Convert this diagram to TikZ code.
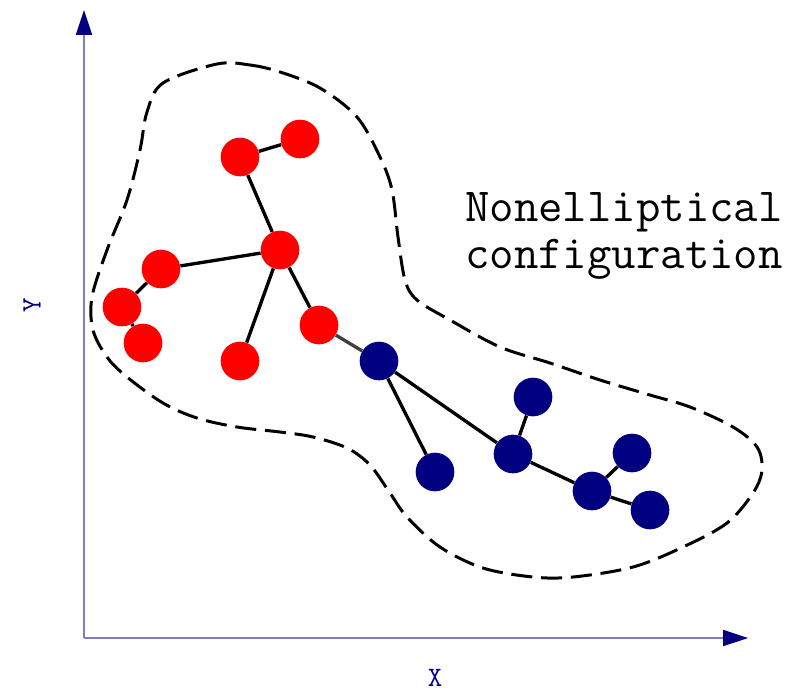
\documentclass[tikz,border=0pt]{standalone}
\usetikzlibrary{arrows.meta}
\definecolor{cRed}{HTML}{FF0000}
\definecolor{cNavy}{HTML}{000080}
\definecolor{cAxis}{HTML}{7F7FBF}
\definecolor{cInk}{HTML}{000000}
\definecolor{cLink}{HTML}{404040}

\begin{document}
\begin{tikzpicture}[
  x=0.02cm, y=-0.02cm,
  ax/.style={line width=0.85pt,color=cAxis,
    -{Triangle[length=14.2pt,width=9.2pt,color=cNavy]}},
  axlbl/.style={font=\ttfamily\fontsize{16}{16}\selectfont,color=cNavy,
    inner sep=0.5pt},
  atom/.style={circle,inner sep=0pt,minimum size=22pt},
  ra/.style={atom,fill=cRed},
  ba/.style={atom,fill=cNavy},
  bond/.style={line width=1.9pt,color=cInk},
  hull/.style={line width=1.7pt,color=cInk,dash pattern=on 12pt off 5pt},
]
\useasboundingbox (0,0) rectangle (803,694);

% ============================================================ axes
\coordinate (o) at (84,638);
\coordinate (ytip) at (84,10);
\coordinate (xtip) at (748,638);
\draw[ax] (o) -- (ytip);
\draw[ax] (o) -- (xtip);
\node[axlbl] (xl) at (435,678) {X};
\node[axlbl,rotate=90] (yl) at (32,305) {Y};

% ============================================================ outline
\draw[hull] plot[smooth cycle,tension=0.55] coordinates {
  (217,64) (250,65) (280,72) (320,88) (357,117) (380,157) (392,190)
  (398,237) (405,280) (417,300) (450,320) (500,347) (550,363) (600,380)
  (650,395) (690,407) (733,427) (757,447) (762,470) (753,493) (727,523)
  (683,547) (633,567) (573,577) (533,577) (483,568) (440,547) (407,517)
  (390,493) (370,465) (347,448) (313,437) (280,432) (237,427) (197,418)
  (163,403) (127,377) (107,357) (93,330) (92,297) (107,250) (127,200)
  (140,150) (147,112) (163,83)};

% ============================================================ atoms
\node[ra] (r1) at (240,157) {};
\node[ra] (r2) at (300,139) {};
\node[ra] (r3) at (280,250) {};
\node[ra] (r4) at (161,269) {};
\node[ra] (r5) at (122,307) {};
\node[ra] (r6) at (143,343) {};
\node[ra] (r7) at (240,361) {};
\node[ra] (r8) at (319,325) {};
\node[ba] (b1) at (379,361) {};
\node[ba] (b2) at (435,472) {};
\node[ba] (b3) at (513,454) {};
\node[ba] (b4) at (533,397) {};
\node[ba] (b5) at (592,491) {};
\node[ba] (b6) at (632,453) {};
\node[ba] (b7) at (650,510) {};

% bonds
\foreach \p/\q in {r1/r2, r1/r3, r3/r4, r4/r5, r5/r6, r3/r7, r3/r8,
                   b1/b2, b1/b3, b3/b4, b3/b5, b5/b6, b5/b7}
  \draw[bond] (\p) -- (\q);
\draw[bond,color=cLink] (r8) -- (b1);

% ============================================================ label
\node[font=\ttfamily\fontsize{27}{26.5}\selectfont,align=center] (cap)
  at (624,236) {Nonelliptical\\configuration};

\end{tikzpicture}
\end{document}
